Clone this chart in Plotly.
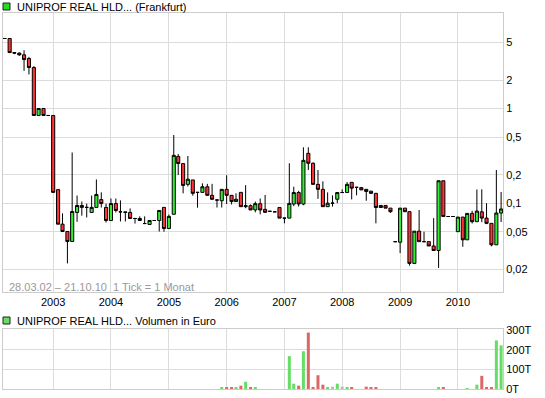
import plotly.graph_objects as go
import pandas as pd

# Monthly candles, Mar 2002 .. Oct 2010
months = pd.date_range("2002-03-01", periods=104, freq="MS")

open_ = [5.49, 5.49, 3.90, 3.85, 3.69, 3.37, 2.71, 0.844, 1.0, 0.844,
         0.844, 0.139, 0.060, 0.0502, 0.0394, 0.0798, 0.0902, 0.0902, 0.0798, 0.0902, 0.109, 0.0902,
         0.0656, 0.099, 0.081, 0.081, 0.0798, 0.0689, 0.0689, 0.0609, 0.0596, 0.0656, 0.0656, 0.0902,
         0.054, 0.0763, 0.312, 0.262, 0.158, 0.176, 0.13, 0.13, 0.149, 0.121, 0.108, 0.106,
         0.14, 0.121, 0.104, 0.13, 0.0918, 0.094, 0.0848, 0.0988, 0.086, 0.082, 0.081, 0.0901,
         0.0695, 0.0695, 0.0979, 0.1295, 0.0979, 0.336, 0.264, 0.158, 0.14, 0.0918, 0.1, 0.11,
         0.1295, 0.1295, 0.166, 0.147, 0.146, 0.14, 0.134, 0.127, 0.090, 0.0946, 0.0886, 0.0392,
         0.0387, 0.0886, 0.0813, 0.0231, 0.0506, 0.0392, 0.0392, 0.0353, 0.0316, 0.1725, 0.0723, 0.0723,
         0.0500, 0.0713, 0.041, 0.078, 0.0637, 0.081, 0.0695, 0.0612, 0.0363, 0.0787]
high = [5.49, 5.49, 3.95, 3.90, 4.13, 3.51, 2.80, 1.0, 1.0, 0.844,
        0.844, 0.139, 0.078, 0.0502, 0.343, 0.1205, 0.104, 0.099, 0.1205, 0.178, 0.130, 0.099,
        0.112, 0.112, 0.107, 0.081, 0.088, 0.0689, 0.0725, 0.0725, 0.0656, 0.0656, 0.0837, 0.0902,
        0.0759, 0.525, 0.331, 0.265, 0.315, 0.176, 0.13, 0.162, 0.16, 0.16, 0.108, 0.14,
        0.197, 0.121, 0.127, 0.13, 0.155, 0.097, 0.104, 0.112, 0.122, 0.082, 0.081, 0.0901,
        0.0695, 0.264, 0.149, 0.135, 0.389, 0.389, 0.27, 0.224, 0.17, 0.13, 0.121, 0.1295,
        0.14, 0.167, 0.166, 0.147, 0.146, 0.14, 0.134, 0.127, 0.0946, 0.0946, 0.0886, 0.0392,
        0.0886, 0.0886, 0.0813, 0.0506, 0.0847, 0.05, 0.0392, 0.0695, 0.1725, 0.1725, 0.0723, 0.0723,
        0.0713, 0.0713, 0.078, 0.083, 0.1395, 0.14, 0.1, 0.0612, 0.224, 0.131]
low = [5.49, 3.85, 3.75, 3.60, 2.50, 2.29, 0.844, 0.844, 0.844, 0.844,
       0.130, 0.060, 0.050, 0.0231, 0.0394, 0.0635, 0.0738, 0.0706, 0.0798, 0.0902, 0.090, 0.0625,
       0.0656, 0.0798, 0.064, 0.064, 0.0689, 0.0609, 0.0656, 0.0609, 0.0596, 0.0656, 0.0502, 0.050,
       0.054, 0.0763, 0.198, 0.127, 0.15, 0.12, 0.0896, 0.13, 0.121, 0.108, 0.09, 0.09,
       0.098, 0.097, 0.104, 0.0918, 0.0883, 0.0848, 0.08, 0.0763, 0.080, 0.082, 0.081, 0.0695,
       0.0612, 0.0695, 0.093, 0.092, 0.095, 0.224, 0.158, 0.111, 0.0918, 0.0918, 0.092, 0.1,
       0.1295, 0.1295, 0.1095, 0.121, 0.138, 0.106, 0.125, 0.0612, 0.090, 0.0886, 0.079, 0.0392,
       0.0297, 0.0813, 0.0219, 0.0231, 0.0392, 0.0392, 0.0353, 0.0316, 0.0207, 0.0723, 0.0723, 0.0723,
       0.05, 0.0346, 0.041, 0.061, 0.0637, 0.063, 0.06, 0.035, 0.0363, 0.0632]
close = [5.49, 3.90, 3.85, 3.69, 3.29, 2.71, 0.844, 1.0, 0.844, 0.844,
         0.130, 0.060, 0.0502, 0.0394, 0.0817, 0.0945, 0.0945, 0.0902, 0.0902, 0.1235, 0.099, 0.0656,
         0.099, 0.0837, 0.081, 0.0798, 0.0689, 0.0689, 0.0656, 0.0609, 0.0656, 0.0656, 0.0837, 0.054,
         0.0725, 0.320, 0.262, 0.154, 0.179, 0.127, 0.13, 0.149, 0.121, 0.110, 0.108, 0.140,
         0.121, 0.104, 0.110, 0.0918, 0.094, 0.0848, 0.0988, 0.0847, 0.080, 0.082, 0.081, 0.0695,
         0.0695, 0.0995, 0.1295, 0.0979, 0.2835, 0.264, 0.158, 0.140, 0.0918, 0.1, 0.1, 0.1295,
         0.1295, 0.158, 0.144, 0.147, 0.138, 0.133, 0.127, 0.090, 0.0946, 0.0886, 0.0813, 0.0392,
         0.0886, 0.0813, 0.0231, 0.0506, 0.0392, 0.0392, 0.0353, 0.0316, 0.1725, 0.0723, 0.0723, 0.0723,
         0.0713, 0.0410, 0.078, 0.0637, 0.0826, 0.0695, 0.0612, 0.0363, 0.0787, 0.0868]

# Monthly turnover in thousand euro (T)
volume_T = [0] * 45 + [7, 7, 7, 7, 17, 37, 7, 7] + [0] * 6 + \
           [167, 27, 17, 192, 287, 7, 70, 22, 10, 12, 27, 12, 7, 7, 0, 0, 12, 7, 7] + \
           [0] * 12 + [7, 7, 0, 0, 0, 0, 5, 0, 22, 67, 7, 7, 247, 222]

price_ticks = [0.02, 0.05, 0.1, 0.2, 0.5, 1, 2, 5]
price_tick_text = ["0,02", "0,05", "0,1", "0,2", "0,5", "1", "2", "5"]
vol_ticks = [0, 100, 200, 300]
vol_tick_text = ["0T", "100T", "200T", "300T"]

UP_FILL = "#33EE33"
DOWN_FILL = "#FF3333"
vol_colors = ["#66DD66" if c > o else ("#DD6666" if c < o else "#BBBBBB")
              for o, c in zip(open_, close)]

GRID = "#DCDCDC"
FONT = "Liberation Sans, Arial, sans-serif"

fig = go.Figure()
fig.add_trace(go.Candlestick(
    x=months, open=open_, high=high, low=low, close=close,
    increasing=dict(line=dict(color="black", width=1), fillcolor=UP_FILL),
    decreasing=dict(line=dict(color="black", width=1), fillcolor=DOWN_FILL),
    whiskerwidth=0, showlegend=False, hoverinfo="skip",
    xaxis="x", yaxis="y"))
fig.add_trace(go.Bar(
    x=months, y=volume_T, marker=dict(color=vol_colors, line=dict(width=0)),
    width=19 * 86400000, showlegend=False, hoverinfo="skip",
    xaxis="x2", yaxis="y2"))

xrange = ["2002-02-18", "2010-10-13"]
price_dom = [(389 - 292) / 376, 1]
vol_dom = [0, (389 - 329) / 376]

fig.update_layout(
    width=545, height=398,
    margin=dict(l=3, r=42, t=13, b=9),
    paper_bgcolor="white", plot_bgcolor="white",
    font=dict(family=FONT, size=11, color="black"),
    boxgap=0.0,
    xaxis=dict(domain=[0, 1], anchor="y", type="date", range=xrange,
               dtick="M12", tick0="2003-01-01", tickformat="%Y",
               showgrid=True, gridcolor=GRID, gridwidth=1,
               showline=True, mirror=True, linecolor="#CCCCCC", linewidth=1,
               ticks="", rangeslider=dict(visible=False), zeroline=False,
               tickfont=dict(size=11)),
    yaxis=dict(domain=price_dom, anchor="x", type="log", side="right",
               range=[-1.9385, 1.009], tickvals=price_ticks, ticktext=price_tick_text,
               showgrid=True, gridcolor=GRID, gridwidth=1,
               showline=True, mirror=True, linecolor="#CCCCCC", linewidth=1,
               ticks="", zeroline=False, tickfont=dict(size=11)),
    xaxis2=dict(domain=[0, 1], anchor="y2", type="date", range=xrange,
                dtick="M12", tick0="2003-01-01", showticklabels=False,
                showgrid=True, gridcolor=GRID, gridwidth=1,
                showline=True, mirror=True, linecolor="#CCCCCC", linewidth=1,
                ticks="", zeroline=False),
    yaxis2=dict(domain=vol_dom, anchor="x2", side="right", range=[0, 305],
                tickvals=vol_ticks, ticktext=vol_tick_text,
                showgrid=True, gridcolor=GRID, gridwidth=1,
                showline=True, mirror=True, linecolor="#CCCCCC", linewidth=1,
                ticks="", zeroline=False, tickfont=dict(size=11)),
)

def px_x(px):
    return (px - 3) / 500

def px_y(py):
    return (389 - py) / 376

shapes = [
    dict(type="rect", xref="paper", yref="paper",
         x0=px_x(3), x1=px_x(10), y0=px_y(10), y1=px_y(3),
         fillcolor="#22DD22", line=dict(color="#222222", width=1)),
    dict(type="rect", xref="paper", yref="paper",
         x0=px_x(3), x1=px_x(10), y0=px_y(324), y1=px_y(317),
         fillcolor="#66DD66", line=dict(color="#222222", width=1)),
]
annotations = [
    dict(xref="paper", yref="paper", x=px_x(15), y=px_y(7), xanchor="left", yanchor="middle",
         text="UNIPROF REAL HLD... (Frankfurt)", showarrow=False,
         font=dict(size=11, color="black")),
    dict(xref="paper", yref="paper", x=px_x(15), y=px_y(321), xanchor="left", yanchor="middle",
         text="UNIPROF REAL HLD... Volumen in Euro", showarrow=False,
         font=dict(size=11, color="black")),
    dict(xref="paper", yref="paper", x=px_x(7), y=px_y(287), xanchor="left", yanchor="middle",
         text="28.03.02 – 21.10.10  1 Tick = 1 Monat", showarrow=False,
         font=dict(size=11, color="#999999")),
]
fig.update_layout(shapes=shapes, annotations=annotations)

fig.write_html("out.html")
